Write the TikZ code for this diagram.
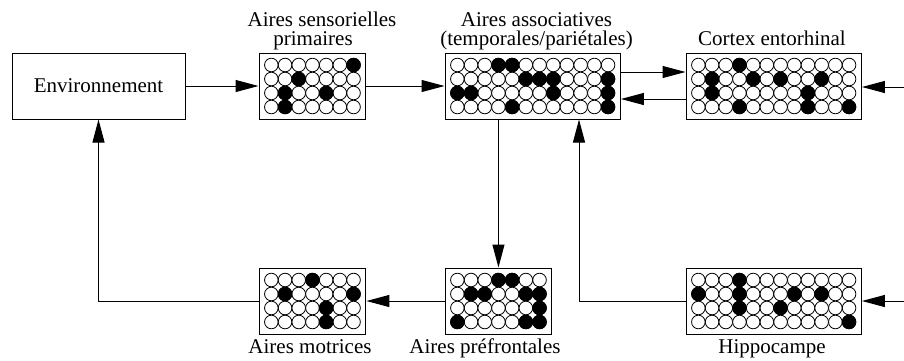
\documentclass[tikz,border=0pt]{standalone}
\usepackage{fontspec}
\setmainfont{Liberation Serif}
\usetikzlibrary{arrows.meta}
\newcommand\cellgrid[5]{%
  \pgfmathsetmacro\gw{#4*13.7+11}
  \node[gridbox, minimum width=\gw pt] (#1) at ({#2+\gw/2},{#3+33}) {};
  \foreach \c in {1,...,#4} {\foreach \r in {1,...,4} {
    \draw[cell] ({#2+5.5+13.7*(\c-0.5)},{#3+5+14*(\r-0.5)}) circle[radius=6.8pt];}}
  \foreach \c/\r in {#5} {
    \draw[cell, fill=black] ({#2+5.5+13.7*(\c-0.5)},{#3+5+14*(\r-0.5)}) circle[radius=6.8pt];}
}
\begin{document}
\begin{tikzpicture}[x=1pt,y=-1pt,
  txt/.style={font=\fontsize{21}{19}\selectfont},
  gridbox/.style={draw, line width=1pt, minimum height=66pt, inner sep=0pt},
  cell/.style={draw, line width=0.8pt, fill=white},
  lbl/.style={txt, anchor=base, inner sep=0pt},
  arr/.style={line width=1pt, -{Triangle[length=23pt,width=12pt]}}]
\useasboundingbox (0,0) rectangle (904,360);

\node[gridbox, txt, minimum width=173pt] (env) at (98.5,86) {Environnement};

\cellgrid{g1}{259}{53}{7}{7/1, 3/2, 2/3, 5/3, 2/4}
\cellgrid{g2}{445}{53}{12}{4/1,5/1, 6/2,7/2,8/2,12/2, 1/3,2/3,8/3,12/3, 5/4,12/4}
\cellgrid{g3}{686}{53}{12}{4/1, 2/2,5/2,7/2,10/2, 2/3,9/3, 4/4,9/4,12/4}
\cellgrid{g4}{259}{268}{7}{4/1, 2/2,7/2, 5/3, 5/4}
\cellgrid{g5}{445}{268}{7}{4/1,5/1, 2/2,3/2,6/2,7/2, 7/3, 1/4,6/4,7/4}
\cellgrid{g6}{686}{268}{12}{4/1, 1/2,4/2,8/2,10/2, 4/3,7/3, 12/4}

\node[lbl] (l1a) at (322,26.5) {Aires sensorielles};
\node[lbl] (l1b) at (313,45.5) {primaires};
\node[lbl] (l2a) at (536.5,26.5) {Aires associatives};
\node[lbl] (l2b) at (536.5,45.5) {(temporales/pariétales)};
\node[lbl] (l3) at (772,45.5) {Cortex entorhinal};
\node[lbl] (l4) at (310,353) {Aires motrices};
\node[lbl] (l5) at (485,353) {Aires préfrontales};
\node[lbl] (l6) at (772,353) {Hippocampe};

\coordinate (in3) at (904,87);
\coordinate (in6) at (904,301);
\coordinate (hc) at (579,0);

\draw[arr] (env.east) -- (g1.west);
\draw[arr] (g1.east) -- (g2.west);
\draw[arr] ([yshift=14pt]g2.east) -- ([yshift=14pt]g3.west);
\draw[arr] ([yshift=-13pt]g3.west) -- ([yshift=-13pt]g2.east);
\draw[arr] (in3) -- (in3 -| g3.east);
\draw[arr] (in6) -- (in6 -| g6.east);
\draw[arr] (g5.north |- g2.south) -- (g5.north);
\draw[arr] (g6.west) -| (hc |- g2.south);
\draw[arr] (g5.west) -- (g4.east);
\draw[arr] (g4.west) -| (env.south);
\end{tikzpicture}
\end{document}
